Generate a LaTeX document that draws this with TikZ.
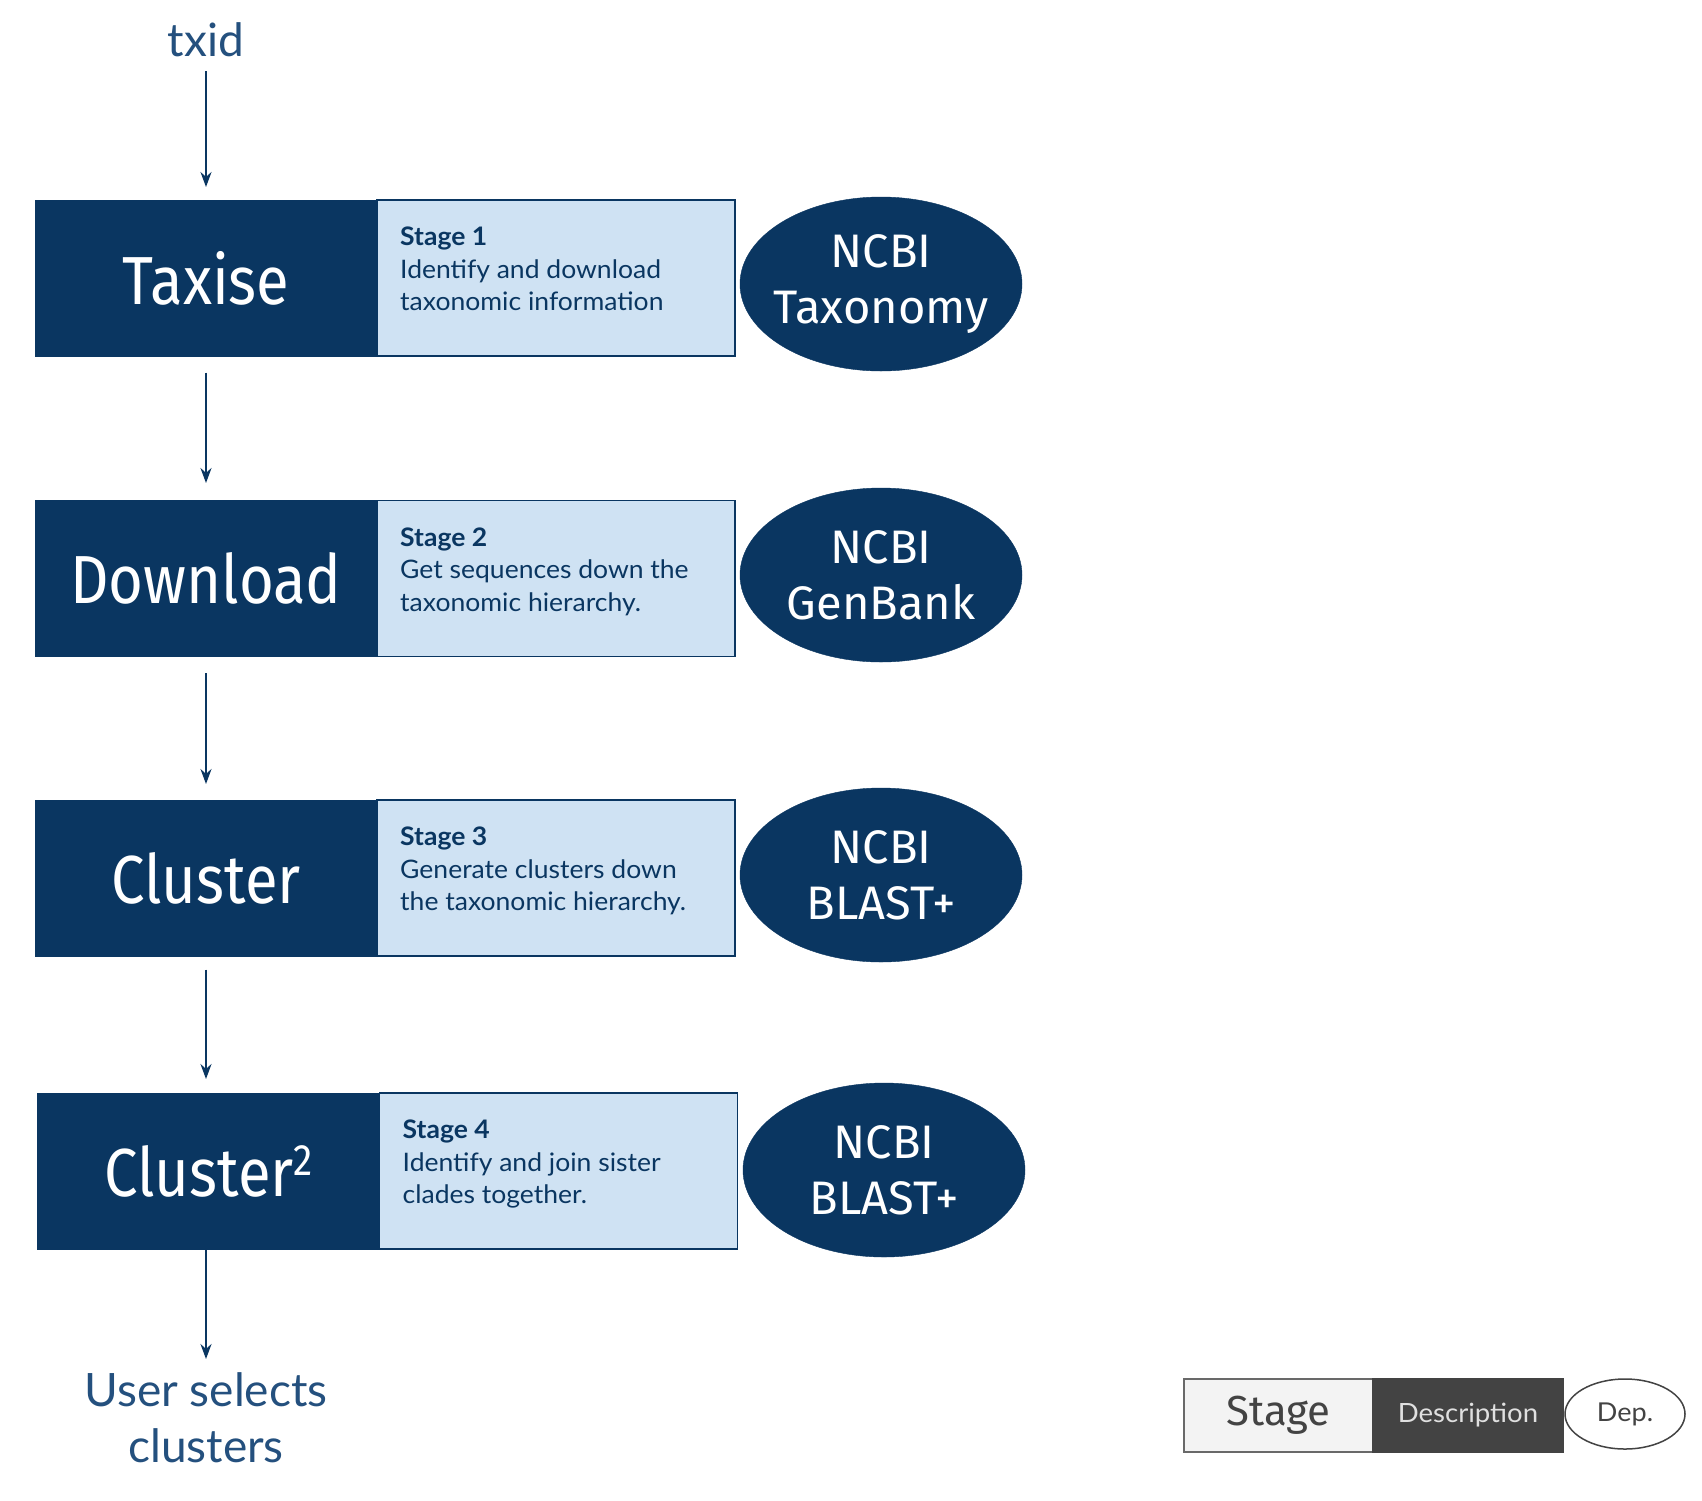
\documentclass[tikz,border=0pt]{standalone}
\usepackage{fontspec}
\usetikzlibrary{arrows.meta,shapes.geometric}
\setmainfont{Fira Sans}
\newfontfamily\bigf[FakeStretch=0.88]{Fira Sans}
\newfontfamily\depf{Fira Sans}
\newfontfamily\descf[FakeStretch=1.04]{Lato}
\newfontfamily\plainf{Lato}
\definecolor{navy}{HTML}{0A3661}
\definecolor{lightb}{HTML}{CFE2F3}
\definecolor{txtn}{HTML}{24507E}
\definecolor{lgray}{HTML}{F3F3F3}
\definecolor{dgray}{HTML}{434343}
\tikzset{
  stagebox/.style={fill=navy,draw=navy,line width=1pt,minimum width=342pt,minimum height=156pt,inner sep=0pt,text=white,font=\bigf\fontsize{68}{70}\selectfont},
  descbox/.style={fill=lightb,draw=navy,line width=1.5pt,minimum width=358pt,minimum height=156pt,inner sep=0pt},
  desctext/.style={anchor=north west,align=left,text=navy,font=\descf\fontsize{25.5}{32.5}\selectfont,inner sep=0pt},
  depnode/.style={ellipse,fill=navy,draw=navy,minimum width=282pt,minimum height=174pt,inner xsep=-25pt,inner ysep=0pt,text=white,align=center,font=\depf\fontsize{47}{56}\selectfont},
  flow/.style={draw=navy,line width=2pt,-{Stealth[length=15pt,width=11pt]}},
  plaintext/.style={text=txtn,align=center,font=\plainf\fontsize{46}{56}\selectfont,inner sep=0pt}
}
\begin{document}
\begin{tikzpicture}[x=1pt,y=-1pt]
\useasboundingbox[fill=white] (0,0) rectangle (1702,1500);
% inputs
\node[plaintext] (txid) at (206,40) {txid};
\coordinate (txs) at (206,71);
% stage 1
\node[stagebox] (s1) at (206,278) {Taxise};
\node[descbox] (d1) at (556,278) {};
\node[desctext] (t1) at (400,227) {\textbf{Stage 1}\\Identify and download\\taxonomic information};
\node[depnode] (e1) at (881,284) {NCBI\\Taxonomy};
% stage 2
\node[stagebox] (s2) at (206,578.5) {Download};
\node[descbox] (d2) at (556,578.5) {};
\node[desctext] (t2) at (400,527.5) {\textbf{Stage 2}\\Get sequences down the\\taxonomic hierarchy.};
\node[depnode] (e2) at (881,575) {NCBI\\GenBank};
% stage 3
\node[stagebox] (s3) at (206,878) {Cluster};
\node[descbox] (d3) at (556,878) {};
\node[desctext] (t3) at (400,827) {\textbf{Stage 3}\\Generate clusters down\\the taxonomic hierarchy.};
\node[depnode] (e3) at (881,875) {NCBI\\BLAST+};
% stage 4
\node[stagebox] (s4) at (208.5,1171) {Cluster\raisebox{0.30em}{\fontsize{44}{44}\selectfont 2}};
\node[descbox] (d4) at (558.5,1171) {};
\node[desctext] (t4) at (402.5,1120) {\textbf{Stage 4}\\Identify and join sister\\clades together.};
\node[depnode] (e4) at (884,1170) {NCBI\\BLAST+};
% output
\node[plaintext] (usr) at (206,1418) {User selects\\clusters};
% arrows
\draw[flow] (txs) -- (206,187);
\draw[flow] (s1.south) ++(0,16) -- (206,483);
\draw[flow] (s2.south) ++(0,16) -- (206,784);
\draw[flow] (s3.south) ++(0,13) -- (206,1079);
\draw[flow] (206,1249) -- (206,1359);
% legend
\node[fill=lgray,draw=dgray!80,line width=1.5pt,minimum width=189pt,minimum height=73pt,inner sep=0pt,text=dgray,font=\depf\fontsize{42}{44}\selectfont] (lst) at (1278.5,1415.5) {Stage};
\node[fill=dgray,draw=dgray,line width=1.5pt,minimum width=190pt,minimum height=73pt,inner sep=0pt,text=white!88!black,font=\descf\fontsize{26.5}{30}\selectfont] (lds) at (1468,1415.5) {Description};
\node[ellipse,fill=white,draw=dgray,line width=1.5pt,minimum width=120pt,minimum height=70pt,inner sep=0pt,text=dgray,font=\descf\fontsize{26}{30}\selectfont] (ldp) at (1625,1414) {Dep.};
\end{tikzpicture}
\end{document}
